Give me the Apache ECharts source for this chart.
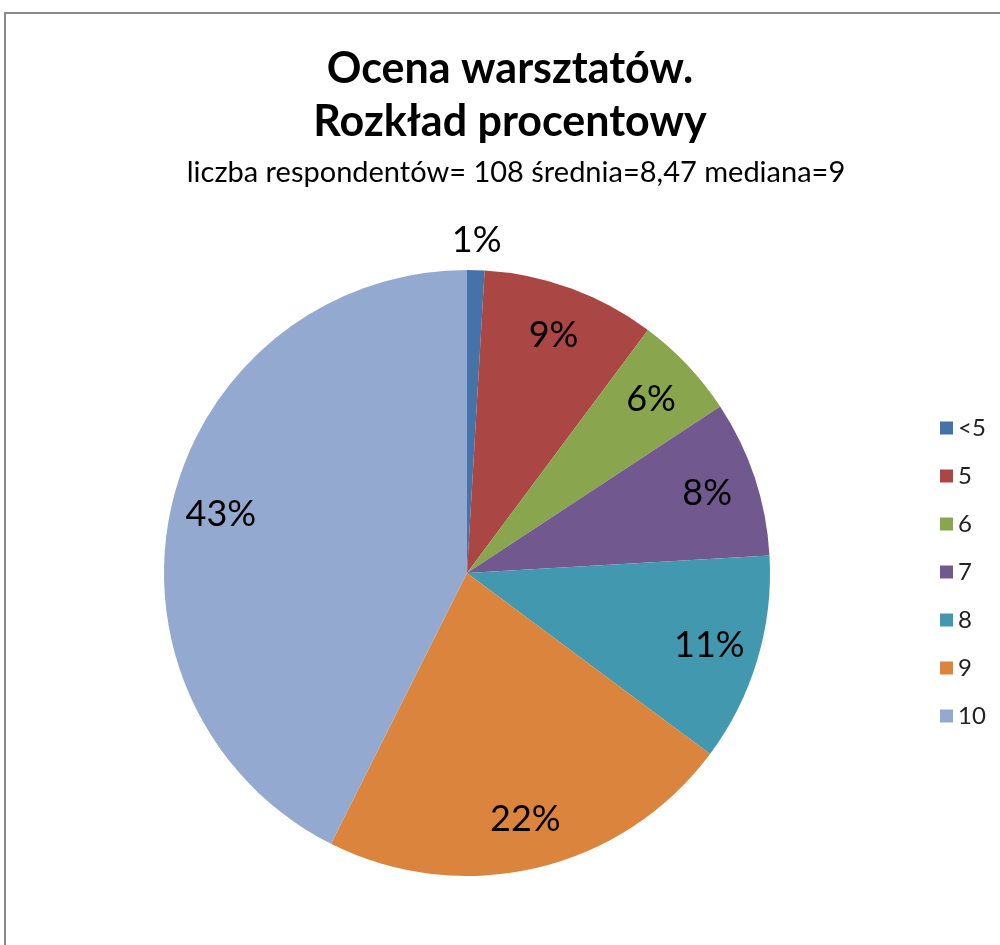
<!DOCTYPE html>
<html><head><meta charset="utf-8">
<script src="https://cdn.jsdelivr.net/npm/echarts@6/dist/echarts.min.js"></script>
<style>html,body{margin:0;padding:0;background:#fff}#c{width:1000px;height:945px}</style>
</head><body><div id="c"></div>
<script>
const categories = ['<5', '5', '6', '7', '8', '9', '10'];
const counts = [1, 10, 6, 9, 12, 24, 46];
const colors = ['#4572A7', '#AA4643', '#89A54E', '#71588F', '#4198AF', '#DB843D', '#93A9CF'];
const titleText = 'Ocena warsztatów.\nRozkład procentowy';
const subtitleText = 'liczba respondentów= 108 średnia=8,47 mediana=9';

const FONT = 'Lato, "Open Sans", sans-serif';
const total = counts.reduce((a, b) => a + b, 0);
const isSmall = i => counts[i] / total < 0.03;
const baseData = categories.map((c, i) => ({ name: c, value: counts[i], itemStyle: { color: colors[i] } }));
const innerLabelData = categories.map((c, i) => ({
  name: c, value: counts[i],
  itemStyle: { color: 'rgba(0,0,0,0)' },
  label: { show: !isSmall(i) }
}));
const outerLabelData = categories.map((c, i) => ({
  name: c, value: counts[i],
  itemStyle: { color: 'rgba(0,0,0,0)' },
  label: { show: isSmall(i) }
}));
const labelStyle = {
  position: 'inside', fontFamily: FONT, fontSize: 36, color: '#000',
  formatter: p => Math.round(p.percent) + '%'
};

const chart = echarts.init(document.getElementById('c'));
chart.setOption({
  animation: false,
  graphic: [{
    type: 'rect', shape: { x: 5, y: 13, width: 1100, height: 1100 },
    style: { fill: 'none', stroke: '#8a8a8a', lineWidth: 2 }, silent: true, z: -1
  }],
  title: [{
    text: titleText, left: 505, top: 38, textAlign: 'center',
    textStyle: { fontFamily: FONT, fontWeight: 'bold', fontSize: 43, lineHeight: 53, color: '#000' }
  }, {
    text: subtitleText, left: 511, top: 153, textAlign: 'center',
    textStyle: { fontFamily: FONT, fontWeight: 'normal', fontSize: 29, color: '#000' }
  }],
  legend: {
    orient: 'vertical', left: 935, top: 411,
    itemWidth: 13, itemHeight: 13, itemGap: 24,
    icon: 'rect',
    textStyle: { fontFamily: FONT, fontSize: 24, color: '#222' },
    data: categories
  },
  series: [{
    type: 'pie', center: [467, 573], radius: [0, 303], startAngle: 90, clockwise: true,
    label: { show: false }, labelLine: { show: false },
    itemStyle: { borderWidth: 0 },
    emphasis: { disabled: true },
    data: baseData
  }, {
    type: 'pie', center: [467, 573], radius: [197, 303], startAngle: 90, clockwise: true,
    silent: true, label: labelStyle, labelLine: { show: false },
    emphasis: { disabled: true },
    data: innerLabelData
  }, {
    type: 'pie', center: [467, 573], radius: [303, 357], startAngle: 90, clockwise: true,
    silent: true, label: labelStyle, labelLine: { show: false },
    emphasis: { disabled: true },
    data: outerLabelData
  }]
});
</script></body></html>
